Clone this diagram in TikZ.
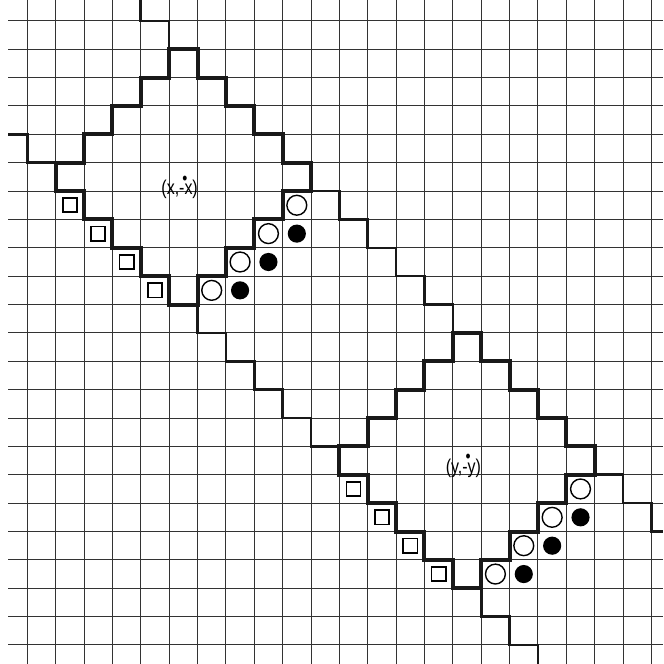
\documentclass[tikz,border=0pt]{standalone}
\usepackage{graphicx}
\usepackage{fontspec}
\setsansfont{Liberation Sans}
\usetikzlibrary{positioning}

\newcommand{\dotmin}{\rlap{\raisebox{0.52em}{\hspace{0.2em}\small\textbullet}}-}

\begin{document}
\begin{tikzpicture}[
  x=0.5cm, y=0.5cm,
  gridline/.style={line width=0.5pt, black!80},
  stair/.style={line width=1.3pt, black!90},
  rim/.style={line width=2pt, black!90, line join=miter},
  sqmark/.style={draw, line width=0.85pt, minimum size=0.25cm, inner sep=0pt},
  opendot/.style={draw, circle, line width=0.7pt, minimum size=0.35cm, inner sep=0pt},
  fulldot/.style={fill, circle, minimum size=0.32cm, inner sep=0pt},
  lbl/.style={font=\sffamily\fontsize{10}{11}\selectfont, inner sep=0pt, anchor=base}]

  \useasboundingbox (-0.962,-0.67) rectangle (22.41,22.735);

  % grid
  \foreach \k in {0,...,22} {
    \draw[gridline] (\k,-0.67) -- (\k,22.735);
    \draw[gridline] (-0.68,\k) -- (22.41,\k);
  }

  % the two long staircases
  \draw[stair] (4,22.735) -- (4,22)
    \foreach \k in {4,...,21} { -- (\k+1,26-\k) -- (\k+1,25-\k) } -- (22.41,4);
  \draw[stair] (-0.68,18) -- (0,18) -- (0,17)
    \foreach \k in {0,...,16} { -- (\k+1,17-\k) -- (\k+1,16-\k) } -- (18,0) -- (18,-0.67);

  % diamonds and marks
  \foreach \d/\v in {0/x, 10/y} {
    \begin{scope}[shift={(\d,-\d)}]
      \draw[rim] (5,21)
        \foreach \k in {5,...,9} { -- (\k+1,26-\k) -- (\k+1,25-\k) }
        \foreach \k in {9,...,6} { -- (\k,\k+7) -- (\k,\k+6) }
        \foreach \k in {5,...,1} { -- (\k,17-\k) -- (\k,18-\k) }
        \foreach \k in {2,...,5} { -- (\k,\k+15) -- (\k,\k+16) } -- cycle;
      \foreach \k in {1,...,4}
        \node[sqmark] (sq\v\k) at (\k+0.5,16.5-\k) {};
      \foreach \k in {6,...,9}
        \node[opendot] (od\v\k) at (\k+0.5,\k+6.5) {};
      \foreach \k in {7,...,9}
        \node[fulldot] (fd\v\k) at (\k+0.5,\k+5.5) {};
    \end{scope}
  }

  \node[lbl] (lblx) at (5.37,15.88) {\scalebox{0.8}[1]{(x,\dotmin x)}};
  \node[lbl] (lbly) at (15.37,6.05) {\scalebox{0.8}[1]{(y,\dotmin y)}};
\end{tikzpicture}
\end{document}
